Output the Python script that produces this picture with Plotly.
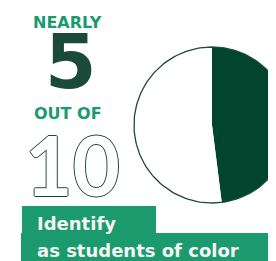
import math
import plotly.graph_objects as go

# ---- data ----
slice_labels = ["Students of color", "Other students"]
slice_values = [48, 52]
headline_top = "NEARLY"
headline_num = "5"
headline_mid = "OUT OF"
headline_den = "10"
caption_lines = ["Identify", "as students of color"]

# the page body has an 8px margin; figure fills the rest of the window
OFF = 8
W, H = 276 - OFF, 261 - OFF
DARK = "#02452f"
LINE = "#1b4a3b"
GREEN = "#1b9a6d"

# pie geometry (layout, window pixels)
cx_px, cy_px, r_px = 212 - OFF, 125 - OFF, 78

def wedge(start_frac, end_frac, n=200):
    xs, ys = [0.0], [0.0]
    for i in range(n + 1):
        t = 2 * math.pi * (start_frac + (end_frac - start_frac) * i / n)
        xs.append(math.sin(t))
        ys.append(math.cos(t))
    xs.append(0.0)
    ys.append(0.0)
    return xs, ys

total = sum(slice_values)
fracs = [v / total for v in slice_values]
colors = [DARK, "white"]
fig = go.Figure()
start = 0.0
for lab, f, c in zip(slice_labels, fracs, colors):
    xs, ys = wedge(start, start + f)
    fig.add_trace(go.Scatter(x=xs, y=ys, mode="lines", fill="toself",
                             fillcolor=c, line=dict(color="rgba(0,0,0,0)", width=0),
                             name=lab, hoverinfo="name", showlegend=False))
    start += f
ox, oy = wedge(0, 1)
fig.add_trace(go.Scatter(x=ox[1:-1], y=oy[1:-1], mode="lines",
                         line=dict(color=LINE, width=1.3), hoverinfo="skip", showlegend=False))

xr = [(0 - cx_px) / r_px, (W - cx_px) / r_px]
yr = [-(H - cy_px) / r_px, cy_px / r_px]

def px(x):
    return (x - OFF) / W

def py(y):
    return 1 - (y - OFF) / H

HEAD = "DejaVu Sans"
annotations = [
    dict(text=headline_top, x=px(67), y=py(22), font=dict(family=HEAD, size=16, color=GREEN, weight=700)),
    dict(text=headline_num, x=px(71), y=py(62), font=dict(family=HEAD, size=74, color=LINE, weight=700)),
    dict(text=headline_mid, x=px(68), y=py(113), font=dict(family=HEAD, size=16, color=GREEN, weight=700)),
    dict(text=headline_den, x=px(72), y=py(164),
         font=dict(family="Lato", size=82, color="white", weight=700,
                   shadow="1px 0 0 #1b4a3b, -1px 0 0 #1b4a3b, 0 1px 0 #1b4a3b, 0 -1px 0 #1b4a3b")),
    dict(text=caption_lines[0], x=px(35), y=py(223), xanchor="left",
         font=dict(family=HEAD, size=18, color="#f4f4f4", weight=700)),
    dict(text=caption_lines[1], x=px(35), y=py(250), xanchor="left",
         font=dict(family=HEAD, size=18, color="#f4f4f4", weight=700)),
]
for a in annotations:
    a.setdefault("xanchor", "center")
    a["yanchor"] = "middle"
    a["xref"] = "paper"
    a["yref"] = "paper"
    a["showarrow"] = False

shapes = [
    dict(type="rect", xref="paper", yref="paper", x0=px(22), x1=px(156), y0=py(233), y1=py(206),
         fillcolor=GREEN, line=dict(width=0), layer="below"),
    dict(type="rect", xref="paper", yref="paper", x0=px(21), x1=1, y0=0, y1=py(233),
         fillcolor=GREEN, line=dict(width=0), layer="below"),
]

fig.update_layout(
    width=W, height=H, margin=dict(l=0, r=0, t=0, b=0),
    paper_bgcolor="white", plot_bgcolor="rgba(0,0,0,0)",
    xaxis=dict(range=xr, visible=False, fixedrange=True),
    yaxis=dict(range=yr, visible=False, fixedrange=True),
    annotations=annotations, shapes=shapes, showlegend=False,
)
fig.write_html("out.html", config={"displayModeBar": False})
